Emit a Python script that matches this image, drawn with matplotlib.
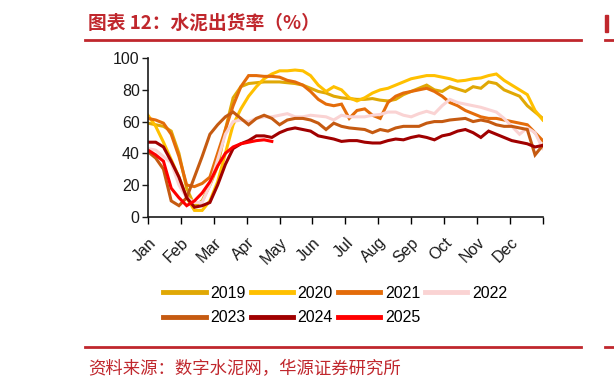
import numpy as np
import matplotlib.pyplot as plt
from matplotlib.lines import Line2D
from matplotlib.patches import Rectangle

plt.rcParams['font.family'] = ['Liberation Sans', 'DejaVu Sans']

months = ['Jan', 'Feb', 'Mar', 'Apr', 'May', 'Jun', 'Jul', 'Aug', 'Sep', 'Oct', 'Nov', 'Dec']
years = ['2019', '2020', '2021', '2022', '2023', '2024', '2025']

# 周度水泥出货率 (%)
y2019 = [59, 58, 57, 54, 40, 18, 7, 10, 20, 32, 55, 75, 82, 84, 84.5, 85, 85, 85, 84.5, 84,
         83, 81, 79, 78, 76, 75, 74.5, 74, 74, 74.5, 73.5, 73, 74, 77, 79, 81, 83, 80, 79, 82,
         80.5, 79, 82, 81, 85, 84, 80, 78, 76, 70, 66, 62]
y2020 = [64, 57, 47, 36, 25, 12, 4, 4, 10, 22, 40, 58, 68, 76, 82, 87, 90, 92, 92, 92.5,
         92, 89, 83, 79, 82, 80, 75, 73, 75, 78, 80, 81, 83, 85, 87, 88, 89, 89, 88, 87,
         85.5, 86, 87, 87.5, 89, 90, 86, 83, 80, 77, 67, 61]
y2021 = [62, 61, 59, 52, 38, 20, 19, 21, 25, 40, 55, 70, 82, 89, 89, 88.5, 88.5, 88, 86, 85,
         83, 79, 74, 71, 70, 71, 62, 67, 68, 64, 62, 72, 76, 78, 79, 80, 81, 79, 76, 72,
         70, 67, 65, 63, 62, 62, 61, 60, 59, 58, 53, 48]
y2022 = [43, 42, 38, 34, 20, 12, 9, 9, 20, 36, 52, 60, 61, 60, 62, 63, 63, 64, 65, 63,
         63, 64, 63.5, 63, 61, 64, 63, 63, 63, 64, 64.5, 66, 66, 64, 63, 65, 66.5, 65, 70, 74,
         72, 71, 70, 69, 67.5, 66, 62, 57, 52, 56, 53, 43]
y2023 = [41, 37, 30, 10, 7, 12, 25, 38, 52, 58, 63, 66, 62, 58, 62, 64, 62, 58, 61, 62,
         62, 61, 59, 55, 59, 57, 56, 55.5, 55, 53, 55, 54, 56, 57, 57, 57, 59, 60, 60, 61,
         61.5, 62, 60, 61, 60, 58, 57, 57, 56, 55, 39, 45]
y2024 = [47, 47, 44, 35, 25, 12, 6, 7, 9, 20, 33, 43, 46, 48, 51, 51, 50, 53, 55, 56,
         55, 54, 51, 50, 49, 47.5, 48, 48, 47, 46.5, 46.5, 48, 49, 48.5, 50, 51, 50, 48.5, 51, 52,
         54, 55, 53, 50, 54, 52, 50, 48, 47, 46, 44, 45]
y2025 = [42, 39, 35, 18, 12, 7, 10, 15, 22, 32, 40, 44, 46, 47, 48, 48.5, 47.5]

series = [y2019, y2020, y2021, y2022, y2023, y2024, y2025]
colors = ['#E0A805', '#FFC000', '#E46C0A', '#FAD3D3', '#C55A11', '#A00000', '#FF0000']

fig = plt.figure(figsize=(6.14, 3.85), dpi=100)
ax = fig.add_axes([0.241, 0.437, 0.643, 0.412])

for ys, c in zip(series, colors):
    x = np.arange(len(ys)) * 12 / 51
    ax.plot(x, ys, color=c, lw=2.2, solid_joinstyle='miter')

ax.set_xlim(0, 12)
ax.set_ylim(0, 100)
ax.set_yticks(range(0, 101, 20))
ax.set_xticks(range(13))
ax.set_xticklabels(months + [''], rotation=45, ha='right', va='top',
                   rotation_mode='anchor', fontsize=11.5, color='#1a1a1a')
ax.tick_params(axis='y', labelsize=11.5, length=4, width=1, colors='#1a1a1a', pad=2)
ax.tick_params(axis='x', length=5, width=1, pad=8)
for s in ['top', 'right']:
    ax.spines[s].set_visible(False)
for s in ['left', 'bottom']:
    ax.spines[s].set_linewidth(1.2)
    ax.spines[s].set_color('#1a1a1a')

# legend filled column by column, so reorder to read row by row
order = [0, 4, 1, 5, 2, 6, 3]
handles = [Line2D([], [], color=colors[i], lw=3.5) for i in order]
labels = [years[i] for i in order]
fig.legend(handles, labels, loc='upper left', bbox_to_anchor=(0.266, 0.258),
           ncol=4, frameon=False, fontsize=11.5, handlelength=2.65,
           handletextpad=0.3, columnspacing=0.3, labelspacing=0.6,
           borderpad=0, borderaxespad=0)

red = '#C0272D'
cjk = ['Noto Sans CJK SC', 'DejaVu Sans']
fig.text(0.143, 0.939, '图表 12：水泥出货率（%）', family=cjk,
         fontsize=13.5, fontweight='bold', color=red, va='center')
fig.add_artist(Line2D([0.139, 0.947], [0.896, 0.896], color=red, lw=2))
fig.add_artist(Line2D([0.139, 0.947], [0.099, 0.099], color=red, lw=2))
fig.text(0.143, 0.042, '资料来源：数字水泥网，华源证券研究所', family=cjk,
         fontsize=12.5, color=red, va='center')
# edge of the neighbouring panel, cut off at the right
fig.add_artist(Line2D([0.985, 1.0], [0.896, 0.896], color=red, lw=2))
fig.add_artist(Line2D([0.985, 1.0], [0.099, 0.099], color=red, lw=2))
fig.add_artist(Rectangle((0.985, 0.918), 0.005, 0.042, color=red, transform=fig.transFigure))

fig.savefig('out.png', dpi=100)
